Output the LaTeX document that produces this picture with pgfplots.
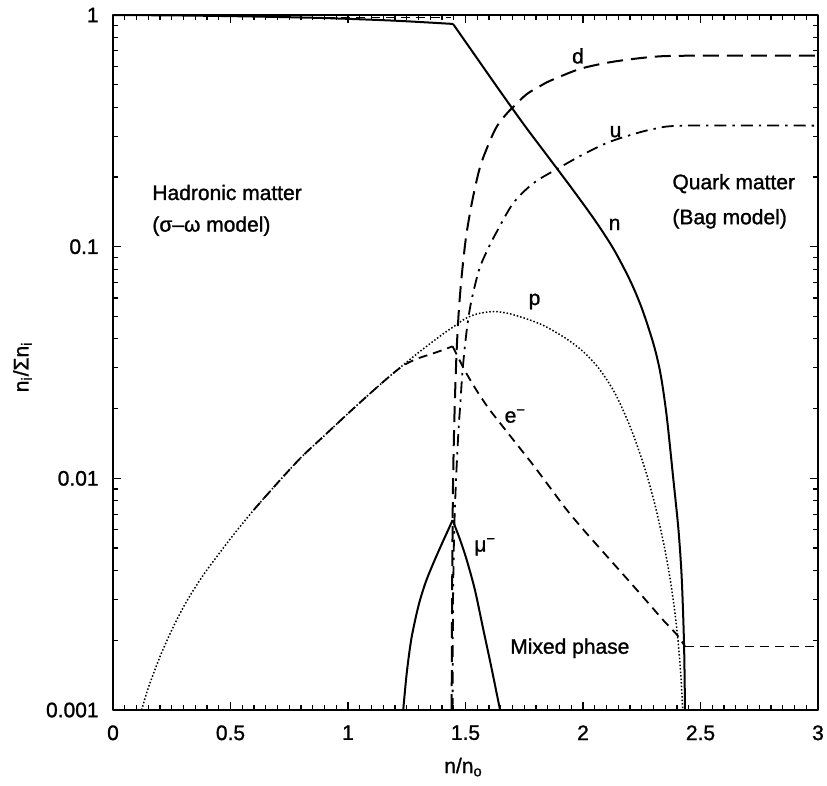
\documentclass[border=0pt]{standalone}
\usepackage{pgfplots}
\pgfplotsset{compat=1.18}
\usepackage{fontspec}
\setmainfont{Liberation Sans}[FakeBold=1.2]
\newcommand\fs{\fontsize{10.5}{12.6}\selectfont}
\begin{document}
\fs
\begin{tikzpicture}[font=\fs]
\begin{axis}[name=ax, scale only axis, width=352.5pt, height=347.5pt,
  ymode=log, xmin=0, xmax=3, ymin=0.001, ymax=1,
  xtick={0,0.5,1,1.5,2,2.5,3}, xticklabels={0,0.5,1,1.5,2,2.5,3},
  minor x tick num=9,
  ytick={0.001,0.01,0.1,1}, yticklabels={0.001,0.01,0.1,1},
  tick align=inside, major tick length=4pt, minor tick length=2.5pt,
  axis line style={line width=1pt},
  every tick/.style={black, line width=0.6pt},
  xticklabel style={yshift=-4pt},
  yticklabel style={xshift=-3.5pt},
  /pgf/number format/assume math mode=true,
  line join=round]
% n (hadronic part)
\addplot[black, line width=1pt, smooth] coordinates {(0,1.0) (0.3,0.995) (0.6,0.985) (0.9,0.97) (1.2,0.945) (1.447,0.915)};
% n (after onset of mixed phase)
\addplot[black, line width=1pt, smooth, tension=0.5] coordinates {(1.447,0.915) (1.55,0.6486) (1.65,0.4645) (1.75,0.3350)
 (1.85,0.2455) (1.95,0.1799) (2.05,0.1303) (2.13,0.0977) (2.2,0.0716) (2.25,0.0543) (2.30,0.0380) (2.33,0.0282)
 (2.356,0.0186) (2.384,0.0100) (2.406,0.00603) (2.420,0.00372) (2.430,0.00191) (2.434,0.001)};
% top dashed
\addplot[black, line width=0.9pt, dash pattern=on 4.5pt off 3pt] coordinates {(0.65,0.975) (1.44,0.975)};
% d
\addplot[black, line width=1pt, dash pattern=on 8pt off 4pt, smooth, tension=0.5] coordinates {(1.441,0.001) (1.443,0.003) (1.446,0.008) (1.450,0.014)
 (1.455,0.022) (1.462,0.035) (1.470,0.050) (1.480,0.068) (1.492,0.090) (1.505,0.115) (1.530,0.160) (1.562,0.221)
 (1.60,0.28) (1.633,0.330) (1.67,0.37) (1.702,0.400) (1.76,0.455) (1.82,0.495) (1.86,0.52) (1.973,0.579) (2.05,0.607)
 (2.143,0.632) (2.285,0.658) (2.43,0.667) (3,0.667)};
% u
\addplot[black, line width=0.9pt, dash pattern=on 6pt off 3pt on 1.2pt off 3pt, smooth, tension=0.5] coordinates {(1.445,0.001) (1.447,0.003)
 (1.452,0.006) (1.460,0.010) (1.470,0.016) (1.478,0.021) (1.486,0.028) (1.496,0.036) (1.507,0.045) (1.52,0.055)
 (1.54,0.068) (1.562,0.082) (1.60,0.100) (1.633,0.116) (1.703,0.154) (1.789,0.188) (1.895,0.218) (2.0,0.250)
 (2.1,0.280) (2.2,0.303) (2.3,0.322) (2.43,0.333) (3,0.333)};
% p
\addplot[black, line width=0.75pt, dash pattern=on 0.75pt off 1pt, smooth, tension=0.5] coordinates {(0.122,0.001) (0.15,0.001245) (0.2,0.0017)
 (0.25,0.002213) (0.3,0.002786) (0.35,0.003388) (0.4,0.004027) (0.5,0.005495) (0.6,0.007328) (0.7,0.00955) (0.8,0.0123)
 (0.9,0.01531) (1.0,0.01905) (1.1,0.02355) (1.2,0.02884) (1.3,0.03491) (1.4,0.04169) (1.45,0.04519) (1.5,0.04898)
 (1.55,0.05129) (1.62,0.05248) (1.69,0.0513) (1.79,0.0476) (1.85,0.0447) (1.93,0.0400) (2.0,0.0353) (2.07,0.0296)
 (2.14,0.0229) (2.21,0.0158) (2.27,0.01047) (2.31,0.00741) (2.345,0.00513) (2.37,0.00372) (2.39,0.00269) (2.406,0.00191)
 (2.418,0.00132) (2.424,0.001)};
% e- (rising part, equal to p)
\addplot[black, line width=0.9pt, dash pattern=on 4.5pt off 3pt, smooth, tension=0.5] coordinates {(0.6,0.007328) (0.7,0.00955) (0.8,0.0123)
 (0.9,0.01531) (1.0,0.01905) (1.1,0.02355) (1.2,0.02884) (1.25,0.0313) (1.3,0.0330) (1.35,0.0343) (1.4,0.0357) (1.445,0.03715)};
% e- (falling part)
\addplot[black, line width=0.9pt, dash pattern=on 4.5pt off 3pt, smooth, tension=0.5] coordinates {(1.445,0.03715) (1.47,0.03311)
 (1.50,0.02884) (1.55,0.02371) (1.60,0.01995) (1.65,0.01718) (1.72,0.01396) (1.79,0.01135) (1.86,0.00912) (1.93,0.00733)
 (2.0,0.00603) (2.07,0.00501) (2.14,0.00417) (2.21,0.00347) (2.28,0.00288) (2.34,0.00245) (2.40,0.00211) (2.434,0.00188)};
\addplot[black, line width=0.9pt, dash pattern=on 4.5pt off 3pt] coordinates {(2.434,0.00188) (3,0.00188)};
% mu-
\addplot[black, line width=1pt, smooth, tension=0.5] coordinates {(1.235,0.001) (1.25,0.001445) (1.27,0.00204) (1.30,0.00282)
 (1.33,0.00355) (1.363,0.0043) (1.395,0.0051) (1.420,0.0058) (1.445,0.0066)};
\addplot[black, line width=1pt, smooth, tension=0.5] coordinates {(1.445,0.0066) (1.475,0.0055) (1.505,0.00445) (1.54,0.0033)
 (1.576,0.00222) (1.61,0.00153) (1.647,0.001)};
\end{axis}
\begin{scope}[every node/.style={inner sep=0pt, anchor=base west}]
\node at ([shift={(19.5pt,-92.5pt)}]ax.north west) {Hadronic matter};
\node at ([shift={(19.5pt,-108.3pt)}]ax.north west) {(σ–ω model)};
\end{scope}
\begin{axis}[scale only axis, width=352.5pt, height=347.5pt, at={(ax.south west)}, anchor=south west,
  ymode=log, xmin=0, xmax=3, ymin=0.001, ymax=1, hide axis, clip=false]
\begin{scope}[every node/.style={inner sep=0pt, anchor=base west}]
\node at (axis cs:2.379,0.177) {Quark matter};
\node at (axis cs:2.379,0.125) {(Bag model)};
\node at (axis cs:2.108,0.118) {n};
\node at (axis cs:1.952,0.618) {d};
\node at (axis cs:2.112,0.297) {u};
\node at (axis cs:1.767,0.056) {p};
\node at (axis cs:1.665,0.0174) {e\textsuperscript{−}};
\node at (axis cs:1.536,0.00483) {μ\textsuperscript{−}};
\node at (axis cs:1.689,0.00175) {Mixed phase};
\end{scope}
\end{axis}
\node[anchor=base, inner sep=0pt] at ([shift={(-1pt,-31.5pt)}]ax.south) {n/n\textsubscript{o}};
\node[anchor=base, inner sep=0pt, rotate=90] at ([shift={(-42.3pt,-2.2pt)}]ax.west) {n\textsubscript{i}/Σn\textsubscript{i}};
\pgfresetboundingbox
\path ([shift={(-56.5pt,-37.5pt)}]ax.south west) rectangle ([shift={(4.5pt,7.5pt)}]ax.north east);
\end{tikzpicture}
\end{document}
